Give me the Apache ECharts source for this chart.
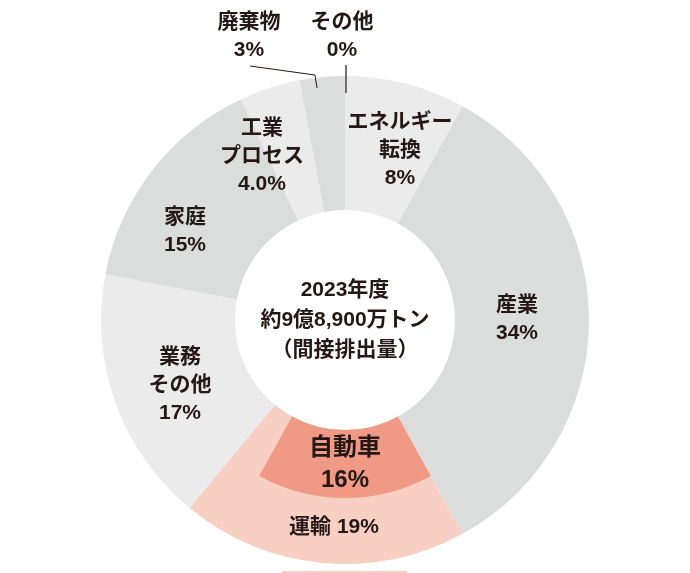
<!DOCTYPE html>
<html>
<head>
<meta charset="utf-8">
<script src="https://cdn.jsdelivr.net/npm/echarts@6/dist/echarts.min.js"></script>
<style>
  html, body { margin: 0; padding: 0; background: #ffffff; }
  #chart { width: 690px; height: 573px; }
</style>
</head>
<body>
<div id="chart"></div>
<script>
// CO2 emissions by sector (indirect), FY2023, share in %
const sectors = ['エネルギー\n転換', '産業', '運輸', '業務\nその他', '家庭', '工業\nプロセス', '廃棄物', 'その他'];
const shares = [8, 34, 19, 17, 15, 4, 3, 0];
const shareDigits = [0, 0, 0, 0, 0, 1, 0, 0];
const sectorColors = ['#ebebeb', '#dbdcdc', '#f8cfc3', '#ebebeb', '#dbdcdc', '#ebebeb', '#dbdcdc', '#dbdcdc'];

// Passenger cars, a part of transport
const carName = '自動車';
const carShare = 16;
const carParentIndex = 2;

const centerTitle = ['2023年度', '約9億8,900万トン', '（間接排出量）'];

const TEXT = '#231815';
const FONT = '"Liberation Sans", "Noto Sans CJK JP", sans-serif';
const CX = 345, CY = 320;

const pct = (i) => shares[i].toFixed(shareDigits[i]) + '%';

// label anchor points (block centers) per sector
const labelPos = [
  [400, 150], [517, 319], [334, 527], [180, 385], [185, 231], [262, 156], [249, 36], [342, 36]
];

const chart = echarts.init(document.getElementById('chart'));

const before = shares.slice(0, carParentIndex).reduce((a, b) => a + b, 0);
const after = shares.reduce((a, b) => a + b, 0) - before - carShare;

const graphics = [];
sectors.forEach((name, i) => {
  const text = i === carParentIndex ? name + ' ' + pct(i) : name + '\n' + pct(i);
  graphics.push({
    type: 'text', x: labelPos[i][0], y: labelPos[i][1], z: 100,
    style: {
      text: text, fill: TEXT, font: 'bold 21px ' + FONT,
      textAlign: 'center', textVerticalAlign: 'middle', lineHeight: 28
    }
  });
});
graphics.push({
  type: 'text', x: CX, y: 464, z: 100,
  style: {
    text: carName + '\n' + carShare + '%', fill: TEXT, font: 'bold 24px ' + FONT,
    textAlign: 'center', textVerticalAlign: 'middle', lineHeight: 32
  }
});
graphics.push({
  type: 'text', x: CX, y: 320, z: 100,
  style: {
    text: centerTitle.join('\n'), fill: TEXT, font: 'bold 21px ' + FONT,
    textAlign: 'center', textVerticalAlign: 'middle', lineHeight: 30
  }
});
// leader lines for the two thin slices at the top
graphics.push({
  type: 'polyline', z: 100,
  shape: { points: [[250, 66], [315, 75], [317, 88]] },
  style: { stroke: '#231815', lineWidth: 1, fill: null }
});
graphics.push({
  type: 'line', z: 100,
  shape: { x1: 346, y1: 65, x2: 346, y2: 93 },
  style: { stroke: '#231815', lineWidth: 1.2 }
});
// strip at the bottom edge
graphics.push({
  type: 'rect', z: 1,
  shape: { x: 282, y: 571, width: 125, height: 4 },
  style: { fill: '#f8cfc3' }
});

chart.setOption({
  backgroundColor: '#ffffff',
  animation: false,
  series: [
    {
      type: 'pie',
      center: [CX, CY],
      radius: [110, 244],
      startAngle: 90,
      clockwise: true,
      minAngle: 0,
      avoidLabelOverlap: false,
      label: { show: false },
      labelLine: { show: false },
      emphasis: { disabled: true },
      itemStyle: { borderWidth: 0 },
      data: sectors.map((n, i) => ({ name: n, value: shares[i], itemStyle: { color: sectorColors[i] } }))
    },
    {
      type: 'pie',
      center: [CX, CY],
      radius: [110, 178],
      startAngle: 90,
      clockwise: true,
      silent: true,
      z: 3,
      label: { show: false },
      labelLine: { show: false },
      emphasis: { disabled: true },
      data: [
        { name: 'before', value: before, itemStyle: { color: 'rgba(0,0,0,0)' } },
        { name: carName, value: carShare, itemStyle: { color: '#f09a85' } },
        { name: 'after', value: after, itemStyle: { color: 'rgba(0,0,0,0)' } }
      ]
    }
  ],
  graphic: graphics
});
</script>
</body>
</html>
